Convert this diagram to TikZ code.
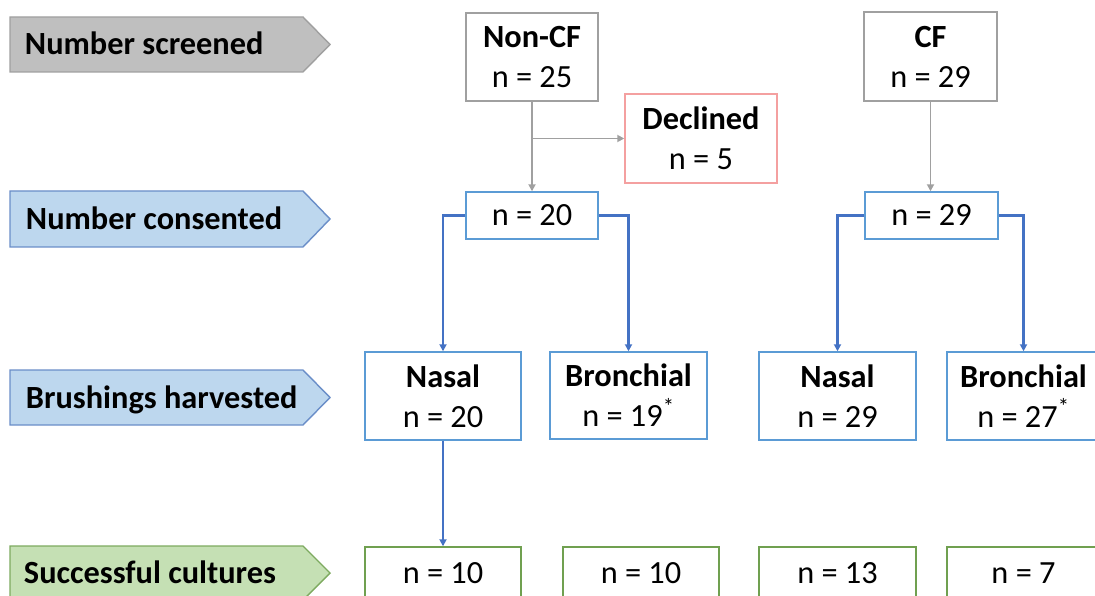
\documentclass[tikz,border=0pt]{standalone}
\usepackage{fontspec}
\setmainfont{Carlito}
\usetikzlibrary{arrows.meta}
\definecolor{scrfill}{RGB}{191,191,191}
\definecolor{scrline}{RGB}{160,160,160}
\definecolor{bluefill}{RGB}{189,215,238}
\definecolor{blueline}{RGB}{106,142,200}
\definecolor{greenfill}{RGB}{197,224,180}
\definecolor{greenline}{RGB}{125,170,95}
\definecolor{boxblue}{RGB}{91,155,213}
\definecolor{linkblue}{RGB}{68,114,196}
\definecolor{boxred}{RGB}{244,160,160}
\definecolor{boxgreen}{RGB}{112,160,80}
\begin{document}
\begin{tikzpicture}[x=0.025cm,y=-0.025cm,
	every node/.style={font=\fontsize{23}{28.5}\selectfont},
	box/.style={draw,line width=1pt,fill=white,align=center,inner sep=0pt},
	greybox/.style={box,draw=scrline},
	bluebox/.style={box,draw=boxblue},
	redbox/.style={box,draw=boxred},
	greenbox/.style={box,draw=boxgreen},
	greylink/.style={draw=scrline,line width=1.3pt,-{Triangle[length=5pt,width=5pt]}},
	bluelink/.style={draw=linkblue,line width=1.6pt,-{Triangle[length=5pt,width=5pt]}}]
	
	\clip (0,0) rectangle (1095,596);
	
	\draw[fill=scrfill,draw=scrline,line width=1pt](10,17)--(303,17)--(330,44.5)--(303,72)--(10,72)--cycle;
	\draw[fill=bluefill,draw=blueline,line width=1pt](10,191)--(303,191)--(330,219)--(303,247)--(10,247)--cycle;
	\draw[fill=bluefill,draw=blueline,line width=1pt](10,370)--(303,370)--(330,397.5)--(303,425)--(10,425)--cycle;
	\draw[fill=greenfill,draw=greenline,line width=1pt](10,546)--(303,546)--(330,573)--(303,600)--(10,600)--cycle;
	
	\node[anchor=base west] (screened) at (20,55) {\textbf{Number screened}};
	\node[anchor=base west] (consented) at (21,230) {\textbf{Number consented}};
	\node[anchor=base west] (harvested) at (21,408) {\textbf{Brushings harvested}};
	\node[anchor=base west] (cultures) at (19,583) {\textbf{Successful cultures}};
	
	\node[greybox,minimum width=3.3cm,minimum height=2.2cm] (noncf) at (532,57) {\textbf{Non-CF}\\n = 25};
	\node[greybox,minimum width=3.325cm,minimum height=2.225cm] (cf) at (930.5,56.5) {\textbf{CF}\\n = 29};
	\node[redbox,minimum width=3.8cm,minimum height=2.225cm] (declined) at (701,138.5) {\textbf{Declined}\\n = 5};
	
	\node[bluebox,minimum width=3.3cm,minimum height=1.175cm] (noncfin) at (532,215.5) {n = 20};
	\node[bluebox,minimum width=3.325cm,minimum height=1.175cm] (cfin) at (931.5,215.5) {n = 29};
	
	\node[bluebox,minimum width=3.9cm,minimum height=2.2cm] (noncfnasal) at (443,396) {\textbf{Nasal}\\n = 20};
	\node[bluebox,minimum width=3.925cm,minimum height=2.175cm] (noncfbron) at (628.5,395.5) {\textbf{Bronchial}\\n = 19\textsuperscript{*}};
	\node[bluebox,minimum width=3.925cm,minimum height=2.2cm] (cfnasal) at (837.5,396) {\textbf{Nasal}\\n = 29};
	\node[bluebox,minimum width=3.825cm,minimum height=2.2cm] (cfbron) at (1023.5,396) {\textbf{Bronchial}\\n = 27\textsuperscript{*}};
	
	\node[greenbox,minimum width=3.9cm,minimum height=1.325cm] (noncfnasalok) at (443,573.5) {n = 10};
	\node[greenbox,minimum width=3.9cm,minimum height=1.325cm] (noncfbronok) at (641,573.5) {n = 10};
	\node[greenbox,minimum width=3.925cm,minimum height=1.325cm] (cfnasalok) at (837.5,573.5) {n = 13};
	\node[greenbox,minimum width=3.825cm,minimum height=1.325cm] (cfbronok) at (1023.5,573.5) {n = 7};
	
	\coordinate (split) at (noncf.south |- declined.west);
	\draw[greylink](noncf.south)--(noncfin.north);
	\draw[greylink](split)--(declined.west);
	\draw[greylink](cf.south)--(cf.south |- cfin.north);
	
	\draw[bluelink](noncfin.west)-|(noncfnasal.north);
	\draw[bluelink](noncfin.east)-|(noncfbron.north);
	\draw[bluelink](cfin.west)-|(cfnasal.north);
	\draw[bluelink](cfin.east)-|(cfbron.north);
	\draw[bluelink](noncfnasal.south)--(noncfnasalok.north);
	
\end{tikzpicture}
\end{document}
